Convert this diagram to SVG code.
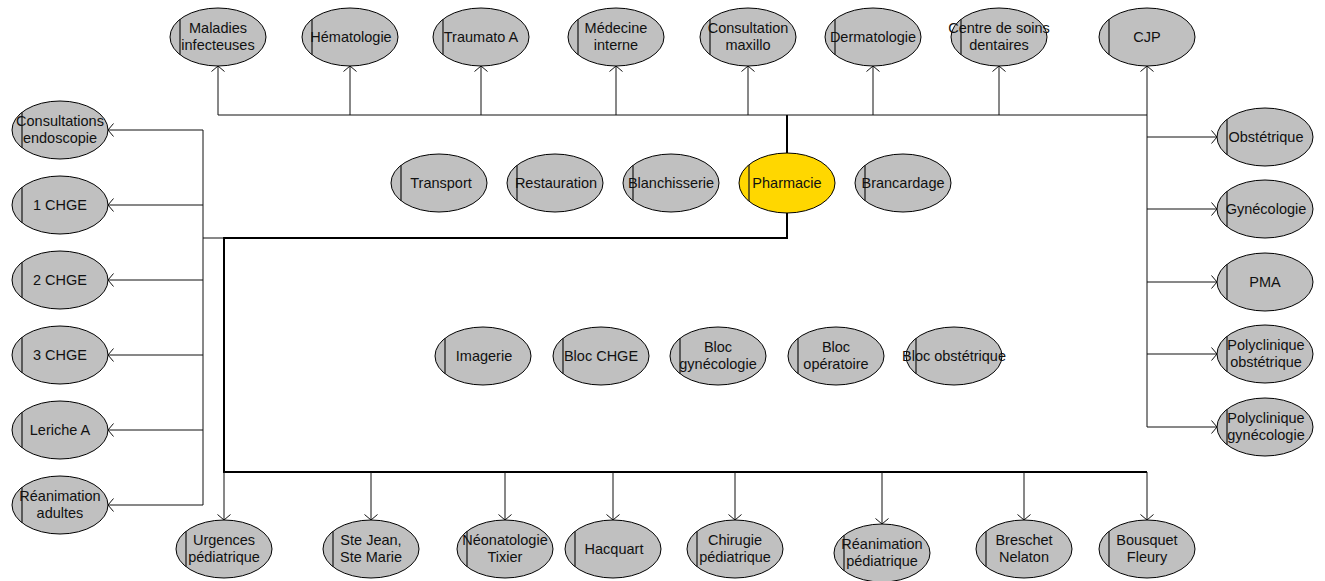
<svg xmlns="http://www.w3.org/2000/svg" width="1325" height="581" viewBox="0 0 1325 581">
<style>
.n ellipse{fill:#c0c0c0;stroke:#000;stroke-width:1}
.n.y ellipse{fill:#ffd700}
.n line{stroke:#222;stroke-width:1.3}
.n text{font-family:"Liberation Sans",Arial,sans-serif;font-size:14.5px;fill:#111;text-anchor:middle}
.c path{fill:none;stroke:#111;stroke-width:1}
.c path.a{marker-end:url(#arr)}
.c path.t{stroke:#000;stroke-width:2}
</style>
<defs>
<marker id="arr" markerUnits="userSpaceOnUse" markerWidth="14" markerHeight="14" refX="7" refY="7" orient="auto" overflow="visible">
<path d="M1.5,0.5 L7,7 L1.5,13.5" fill="none" stroke="#111" stroke-width="1"/>
</marker>
</defs>
<rect width="1325" height="581" fill="#fff"/>
<g class="c" id="connectors">
<path class="t" d="M787,115 V238 H224 V472 H1147"/>
<path d="M218,115 H1147"/>
<path class="a" d="M218,115 V66"/>
<path class="a" d="M350,115 V66"/>
<path class="a" d="M481,115 V66"/>
<path class="a" d="M616,115 V66"/>
<path class="a" d="M748,115 V66"/>
<path class="a" d="M873,115 V66"/>
<path class="a" d="M999,115 V66"/>
<path class="a" d="M1147,115 V66"/>
<path d="M203,130 V505 M203,238 H224"/>
<path class="a" d="M203,130 H108"/>
<path class="a" d="M203,205 H108"/>
<path class="a" d="M203,280 H108"/>
<path class="a" d="M203,355 H108"/>
<path class="a" d="M203,430 H108"/>
<path class="a" d="M203,505 H108"/>
<path d="M1147,115 V427"/>
<path class="a" d="M1147,137 H1217"/>
<path class="a" d="M1147,209 H1217"/>
<path class="a" d="M1147,282 H1217"/>
<path class="a" d="M1147,354 H1217"/>
<path class="a" d="M1147,427 H1217"/>
<path class="a" d="M224,472 V520"/>
<path class="a" d="M371,472 V520"/>
<path class="a" d="M505,472 V520"/>
<path class="a" d="M613,472 V520"/>
<path class="a" d="M735,472 V520"/>
<path class="a" d="M882,472 V524"/>
<path class="a" d="M1024,472 V520"/>
<path class="a" d="M1147,472 V520"/>
</g>
<!-- top row -->
<g class="n" id="maladies-infecteuses"><ellipse cx="218" cy="37" rx="48" ry="29"/><line x1="180" y1="19" x2="180" y2="55"/><text x="218" y="33">Maladies</text><text x="218" y="50">infecteuses</text></g>
<g class="n" id="hematologie"><ellipse cx="350" cy="37" rx="48" ry="29"/><line x1="312" y1="19" x2="312" y2="55"/><text x="351" y="42">Hématologie</text></g>
<g class="n" id="traumato-a"><ellipse cx="481" cy="37" rx="48" ry="29"/><line x1="443" y1="19" x2="443" y2="55"/><text x="481" y="42">Traumato A</text></g>
<g class="n" id="medecine-interne"><ellipse cx="616" cy="37" rx="48" ry="29"/><line x1="578" y1="19" x2="578" y2="55"/><text x="616" y="33">Médecine</text><text x="616" y="50">interne</text></g>
<g class="n" id="consultation-maxillo"><ellipse cx="748" cy="37" rx="48" ry="29"/><line x1="710" y1="19" x2="710" y2="55"/><text x="748" y="33">Consultation</text><text x="748" y="50">maxillo</text></g>
<g class="n" id="dermatologie"><ellipse cx="873" cy="37" rx="48" ry="29"/><line x1="835" y1="19" x2="835" y2="55"/><text x="873" y="42">Dermatologie</text></g>
<g class="n" id="centre-soins-dentaires"><ellipse cx="999" cy="37" rx="48" ry="29"/><line x1="961" y1="19" x2="961" y2="55"/><text x="999" y="33">Centre de soins</text><text x="999" y="50">dentaires</text></g>
<g class="n" id="cjp"><ellipse cx="1147" cy="37" rx="48" ry="29"/><line x1="1109" y1="19" x2="1109" y2="55"/><text x="1147" y="42">CJP</text></g>
<!-- left column -->
<g class="n" id="consultations-endoscopie"><ellipse cx="60" cy="130" rx="48" ry="29"/><line x1="22" y1="112" x2="22" y2="148"/><text x="60" y="126">Consultations</text><text x="60" y="143">endoscopie</text></g>
<g class="n" id="chge-1"><ellipse cx="60" cy="205" rx="48" ry="29"/><line x1="22" y1="187" x2="22" y2="223"/><text x="60" y="210">1 CHGE</text></g>
<g class="n" id="chge-2"><ellipse cx="60" cy="280" rx="48" ry="29"/><line x1="22" y1="262" x2="22" y2="298"/><text x="60" y="285">2 CHGE</text></g>
<g class="n" id="chge-3"><ellipse cx="60" cy="355" rx="48" ry="29"/><line x1="22" y1="337" x2="22" y2="373"/><text x="60" y="360">3 CHGE</text></g>
<g class="n" id="leriche-a"><ellipse cx="60" cy="430" rx="48" ry="29"/><line x1="22" y1="412" x2="22" y2="448"/><text x="60" y="435">Leriche A</text></g>
<g class="n" id="reanimation-adultes"><ellipse cx="60" cy="505" rx="48" ry="29"/><line x1="22" y1="487" x2="22" y2="523"/><text x="60" y="501">Réanimation</text><text x="60" y="518">adultes</text></g>
<!-- right column -->
<g class="n" id="obstetrique"><ellipse cx="1265" cy="137" rx="48" ry="29"/><line x1="1227" y1="119" x2="1227" y2="155"/><text x="1266" y="142">Obstétrique</text></g>
<g class="n" id="gynecologie"><ellipse cx="1265" cy="209" rx="48" ry="29"/><line x1="1227" y1="191" x2="1227" y2="227"/><text x="1266" y="214">Gynécologie</text></g>
<g class="n" id="pma"><ellipse cx="1265" cy="282" rx="48" ry="29"/><line x1="1227" y1="264" x2="1227" y2="300"/><text x="1265" y="287">PMA</text></g>
<g class="n" id="polyclinique-obstetrique"><ellipse cx="1265" cy="354" rx="48" ry="29"/><line x1="1227" y1="336" x2="1227" y2="372"/><text x="1266" y="350">Polyclinique</text><text x="1266" y="367">obstétrique</text></g>
<g class="n" id="polyclinique-gynecologie"><ellipse cx="1265" cy="427" rx="48" ry="29"/><line x1="1227" y1="409" x2="1227" y2="445"/><text x="1266" y="423">Polyclinique</text><text x="1266" y="440">gynécologie</text></g>
<!-- middle row 1 -->
<g class="n" id="transport"><ellipse cx="439" cy="183" rx="48" ry="29"/><line x1="401" y1="165" x2="401" y2="201"/><text x="441" y="188">Transport</text></g>
<g class="n" id="restauration"><ellipse cx="555" cy="183" rx="48" ry="29"/><line x1="517" y1="165" x2="517" y2="201"/><text x="556" y="188">Restauration</text></g>
<g class="n" id="blanchisserie"><ellipse cx="671" cy="183" rx="48" ry="29"/><line x1="633" y1="165" x2="633" y2="201"/><text x="671" y="188">Blanchisserie</text></g>
<g class="n y" id="pharmacie"><ellipse cx="787" cy="183" rx="48" ry="30"/><line x1="749" y1="165" x2="749" y2="201"/><text x="787" y="188">Pharmacie</text></g>
<g class="n" id="brancardage"><ellipse cx="903" cy="183" rx="48" ry="29"/><line x1="865" y1="165" x2="865" y2="201"/><text x="903" y="188">Brancardage</text></g>
<!-- middle row 2 -->
<g class="n" id="imagerie"><ellipse cx="483" cy="356" rx="48" ry="29"/><line x1="445" y1="338" x2="445" y2="374"/><text x="484" y="361">Imagerie</text></g>
<g class="n" id="bloc-chge"><ellipse cx="601" cy="356" rx="48" ry="29"/><line x1="563" y1="338" x2="563" y2="374"/><text x="601" y="361">Bloc CHGE</text></g>
<g class="n" id="bloc-gynecologie"><ellipse cx="718" cy="356" rx="48" ry="29"/><line x1="680" y1="338" x2="680" y2="374"/><text x="718" y="352">Bloc</text><text x="718" y="369">gynécologie</text></g>
<g class="n" id="bloc-operatoire"><ellipse cx="836" cy="356" rx="48" ry="29"/><line x1="798" y1="338" x2="798" y2="374"/><text x="836" y="352">Bloc</text><text x="836" y="369">opératoire</text></g>
<g class="n" id="bloc-obstetrique"><ellipse cx="954" cy="356" rx="48" ry="29"/><line x1="916" y1="338" x2="916" y2="374"/><text x="954" y="361">Bloc obstétrique</text></g>
<!-- bottom row -->
<g class="n" id="urgences-pediatrique"><ellipse cx="224" cy="549" rx="48" ry="29"/><line x1="186" y1="531" x2="186" y2="567"/><text x="224" y="545">Urgences</text><text x="224" y="562">pédiatrique</text></g>
<g class="n" id="ste-jean-ste-marie"><ellipse cx="371" cy="549" rx="48" ry="29"/><line x1="333" y1="531" x2="333" y2="567"/><text x="371" y="545">Ste Jean,</text><text x="371" y="562">Ste Marie</text></g>
<g class="n" id="neonatologie-tixier"><ellipse cx="505" cy="549" rx="48" ry="29"/><line x1="467" y1="531" x2="467" y2="567"/><text x="505" y="545">Néonatologie</text><text x="505" y="562">Tixier</text></g>
<g class="n" id="hacquart"><ellipse cx="613" cy="549" rx="48" ry="29"/><line x1="575" y1="531" x2="575" y2="567"/><text x="614" y="554">Hacquart</text></g>
<g class="n" id="chirugie-pediatrique"><ellipse cx="735" cy="549" rx="48" ry="29"/><line x1="697" y1="531" x2="697" y2="567"/><text x="735" y="545">Chirugie</text><text x="735" y="562">pédiatrique</text></g>
<g class="n" id="reanimation-pediatrique"><ellipse cx="882" cy="553" rx="48" ry="29"/><line x1="844" y1="535" x2="844" y2="571"/><text x="882" y="549">Réanimation</text><text x="882" y="566">pédiatrique</text></g>
<g class="n" id="breschet-nelaton"><ellipse cx="1024" cy="549" rx="48" ry="29"/><line x1="986" y1="531" x2="986" y2="567"/><text x="1024" y="545">Breschet</text><text x="1024" y="562">Nelaton</text></g>
<g class="n" id="bousquet-fleury"><ellipse cx="1147" cy="549" rx="48" ry="29"/><line x1="1109" y1="531" x2="1109" y2="567"/><text x="1147" y="545">Bousquet</text><text x="1147" y="562">Fleury</text></g>
</svg>
